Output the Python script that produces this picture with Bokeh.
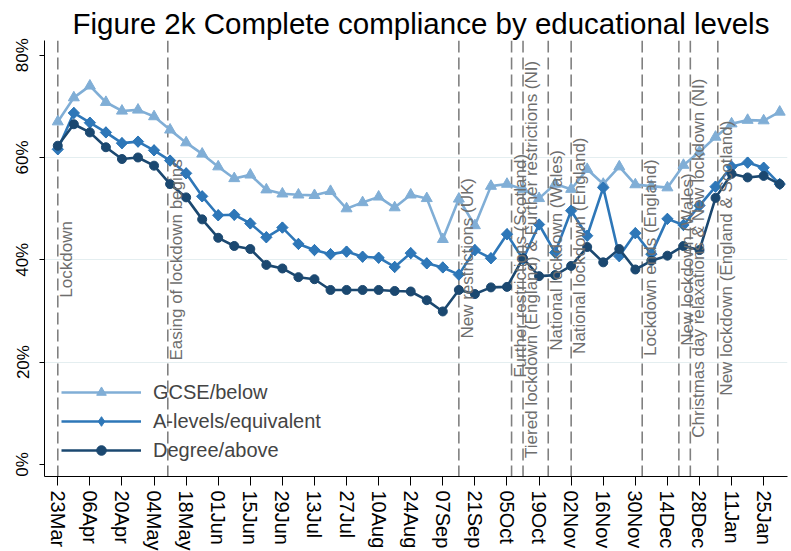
import numpy as np
import pandas as pd
from bokeh.plotting import figure
from bokeh.models import (FixedTicker, DatetimeTickFormatter, Span,
                          ColumnDataSource, Range1d)
from bokeh.core.properties import value
from bokeh.embed import file_html
from bokeh.resources import INLINE

# ---------------- data ----------------
weeks = pd.date_range("2020-03-23", periods=46, freq="7D")

gcse = [67.0, 71.7, 74.0, 70.8, 69.1, 69.3, 68.0, 65.4, 62.9, 60.7,
        58.2, 55.9, 56.6, 53.7, 52.9, 52.7, 52.6, 53.4, 50.0, 51.2,
        52.3, 50.2, 52.7, 52.0, 44.0, 51.9, 46.7, 54.4, 54.8, 53.8,
        52.0, 54.8, 53.8, 57.7, 54.8, 58.2, 54.7, 54.4, 54.1, 58.5,
        61.1, 64.0, 66.6, 67.3, 67.2, 68.9]
alevels = [61.6, 68.7, 66.8, 64.9, 62.8, 63.1, 61.4, 59.4, 56.9, 52.4,
           48.7, 48.8, 47.1, 44.4, 46.3, 43.1, 41.9, 41.1, 41.6, 40.6,
           40.4, 38.6, 41.3, 39.3, 38.5, 37.1, 41.9, 40.3, 45.0, 40.1,
           46.9, 41.4, 49.6, 44.7, 54.1, 40.7, 45.2, 41.1, 48.0, 46.8,
           50.6, 54.3, 58.2, 59.0, 58.0, 54.8]
degree = [62.3, 66.5, 64.9, 62.0, 59.7, 60.0, 58.4, 54.8, 52.2, 47.9,
          44.3, 42.7, 42.1, 39.0, 38.3, 36.6, 36.2, 34.1, 34.1, 34.1,
          34.1, 33.9, 33.8, 32.1, 29.9, 34.1, 33.3, 34.6, 34.7, 40.3,
          36.8, 37.0, 38.8, 42.5, 39.5, 42.1, 38.1, 39.8, 40.8, 42.7,
          41.9, 52.1, 56.8, 56.1, 56.4, 54.8]

series_names = ["GCSE/below", "A-levels/equivalent", "Degree/above"]

x_ticks = pd.date_range("2020-03-23", periods=23, freq="14D")
y_ticks = [0, 20, 40, 60, 80]
y_tick_labels = ["0%", "20%", "40%", "60%", "80%"]
grid_ticks = [20, 40, 60]

# event lines; labels anchored at their lower end ...
event_dates_low = ["2020-03-23", "2020-05-10", "2020-09-14", "2020-10-23",
                   "2020-11-02", "2020-12-03", "2020-12-19"]
event_labels_low = ["Lockdown", "Easing of lockdown begins", "New restrictions (UK)",
                    "National lockdown (Wales)", "National lockdown (England)",
                    "Lockdown ends (England)", "New lockdown (Wales)"]
event_pos_low = [32.6, 20.3, 24.6, 22.2, 21.6, 21.2, 23.2]
# ... or at their upper end
event_dates_high = ["2020-10-07", "2020-10-12", "2020-12-24", "2021-01-05"]
event_labels_high = ["Further restrictions (Scotland)",
                     "Tiered lockdown (England) & Further restrictions (NI)",
                     "Christmas day relaxations & New lockdown (NI)",
                     "New lockdown (England & Scotland)"]
event_pos_high = [60.7, 78.9, 75.4, 67.2]

title = "Figure 2k Complete compliance by educational levels"

# ---------------- styling ----------------
FONT = "Liberation Sans"
c_gcse, c_alev, c_deg = "#80aed6", "#2e77b8", "#1b4870"

t0 = pd.Timestamp("2020-03-23")
x_range = Range1d(t0 - pd.Timedelta(days=5.8), t0 + pd.Timedelta(days=318.4))
y_range = Range1d(-2.37, 82.87)

p = figure(frame_width=743, frame_height=436, x_axis_type="datetime",
           x_range=x_range, y_range=y_range, output_backend="svg",
           toolbar_location=None, min_border_left=44, min_border_right=4,
           min_border_top=40, min_border_bottom=74, title=title)
p.outline_line_color = None
p.background_fill_color = "white"
p.border_fill_color = "white"

p.title.text_font = FONT
p.title.text_font_size = "29.5px"
p.title.text_font_style = "normal"
p.title.text_color = "black"
p.title.align = "left"
p.title.offset = 28
p.title.standoff = 2

# event lines
ms = lambda d: pd.Timestamp(d).value / 1e6
for d in event_dates_low + event_dates_high:
    p.add_layout(Span(location=ms(d), dimension="height", line_color="#808080",
                      line_width=1.6, line_dash="12 5", level="underlay"))

src = ColumnDataSource(dict(x=weeks, gcse=gcse, alev=alevels, deg=degree))
p.line("x", "gcse", source=src, color=c_gcse, line_width=2.6, legend_label=series_names[0])
p.scatter("x", "gcse", source=src, marker="triangle", size=11, color=c_gcse,
          legend_label=series_names[0])
p.line("x", "alev", source=src, color=c_alev, line_width=2.6, legend_label=series_names[1])
p.scatter("x", "alev", source=src, marker="diamond", size=11, color=c_alev,
          legend_label=series_names[1])
p.scatter("x", "alev", source=src, marker="square", angle=np.pi / 4, size=8,
          color=c_alev)
p.line("x", "deg", source=src, color=c_deg, line_width=2.6, legend_label=series_names[2])
p.scatter("x", "deg", source=src, marker="circle", size=9, color=c_deg,
          legend_label=series_names[2])

# event labels
p.text(x=pd.to_datetime(event_dates_low), y=event_pos_low, text=event_labels_low,
       angle=np.pi / 2, text_align="left", text_baseline="top", x_offset=-1,
       text_font=value(FONT), text_font_size="17px", text_color="#6e6e6e")
p.text(x=pd.to_datetime(event_dates_high), y=event_pos_high, text=event_labels_high,
       angle=np.pi / 2, text_align="right", text_baseline="top", x_offset=-1,
       text_font=value(FONT), text_font_size="17px", text_color="#6e6e6e")

# axes
p.xaxis.ticker = FixedTicker(ticks=[ms(d) for d in x_ticks])
fmt = "%d%b"
p.xaxis.formatter = DatetimeTickFormatter(
    microseconds=fmt, milliseconds=fmt, seconds=fmt, minsec=fmt, minutes=fmt,
    hourmin=fmt, hours=fmt, days=fmt, months=fmt, years=fmt, context=None)
p.xaxis.major_label_orientation = "vertical"
p.xaxis.major_label_text_font = FONT
p.xaxis.major_label_text_font_size = "20px"
p.xaxis.major_label_text_color = "black"
p.xaxis.major_tick_out = 9
p.xaxis.major_tick_in = 0
p.xaxis.minor_tick_line_color = None
p.xaxis.major_label_standoff = 5

p.yaxis.ticker = FixedTicker(ticks=y_ticks)
p.yaxis.major_label_overrides = {t: l for t, l in zip(y_ticks, y_tick_labels)}
p.yaxis.major_label_orientation = "vertical"
p.yaxis.major_label_text_font = FONT
p.yaxis.major_label_text_font_size = "17px"
p.yaxis.major_label_text_color = "black"
p.yaxis.major_tick_out = 5
p.yaxis.major_tick_in = 0
p.yaxis.minor_tick_line_color = None
p.yaxis.major_label_standoff = 7

for ax in (p.xaxis, p.yaxis):
    ax.axis_line_color = "black"
    ax.major_tick_line_color = "black"

p.xgrid.grid_line_color = None
p.ygrid.ticker = FixedTicker(ticks=grid_ticks)
p.ygrid.grid_line_color = "#e4eef0"
p.ygrid.grid_line_width = 1

# legend
lg = p.legend[0]
lg.location = (17, 14)
lg.border_line_alpha = 0
lg.background_fill_alpha = 0
lg.padding = 0
lg.margin = 0
lg.spacing = 5
lg.glyph_width = 80
lg.glyph_height = 24
lg.label_height = 24
lg.label_standoff = 12
lg.label_text_font = FONT
lg.label_text_font_size = "20px"

open("out.html", "w").write(file_html(p, INLINE))
